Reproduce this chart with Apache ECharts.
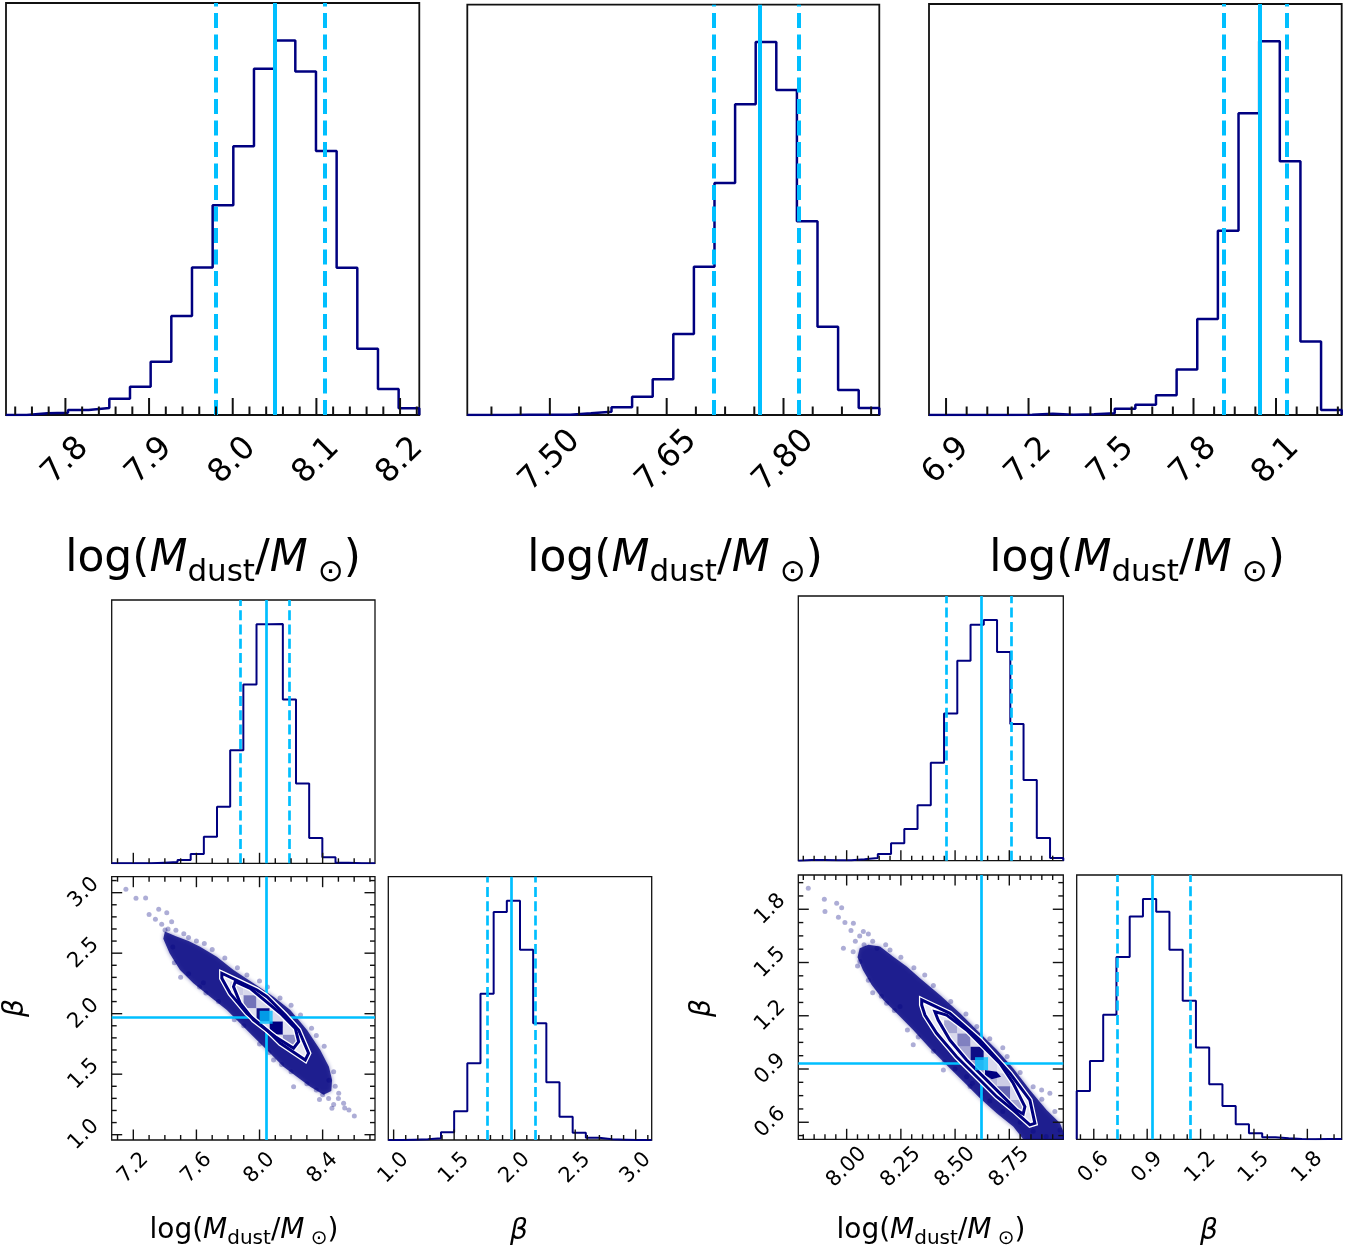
<!DOCTYPE html>
<html><head><meta charset="utf-8">
<script src="https://cdn.jsdelivr.net/npm/echarts@6/dist/echarts.min.js"></script>
<style>html,body{margin:0;padding:0;background:#fff}#c{width:1363px;height:1254px}#err{position:absolute;left:1090px;top:610px;width:260px;font:10px monospace;color:#888;white-space:pre-wrap}</style>
</head><body><div id="c"></div><div id="err"></div>
<script>
function showErr(m) { const e = document.getElementById('err'); if (e) e.textContent += m + '\n'; }
window.onerror = function (msg) { showErr(String(msg)); };
// ---------------- DATA ----------------
// Top row: three 1-D posteriors of log(Mdust/Msun)
const h1Range = [7.729, 8.223];
const h1Counts = [0,5,7,15,21,49,85,160,297,443,630,807,1040,1125,1032,793,442,199,78,20];
const h1Ticks = ['7.8','7.9','8.0','8.1','8.2'];
const h1Quant = [7.980, 8.052, 8.110];

const h2Range = [7.394, 7.923];
const h2Counts = [0,0,1,1,1,5,10,23,55,107,243,445,696,932,1119,975,581,265,75,21];
const h2Ticks = ['7.50','7.65','7.80'];
const h2Quant = [7.710, 7.771, 7.819];

const h3Range = [6.838, 8.339];
const h3Counts = [0,0,0,0,1,4,1,2,5,19,31,59,137,288,553,906,1122,762,221,15];
const h3Ticks = ['6.9','7.2','7.5','7.8','8.1'];
const h3Quant = [7.907, 8.042, 8.139];

// Bottom-left corner plot
const cLxRange = [7.063, 8.732];
const cLyRange = [0.956, 3.132];
const cLxTicks = ['7.2','7.6','8.0','8.4'];
const cLyTicks = ['1.0','1.5','2.0','2.5','3.0'];
const cLmCounts = [0,0,0,2,4,10,28,80,170,339,536,717,718,491,239,76,18,2,0,0];
const cLmQuant = [7.877, 8.042, 8.186];
const cLbCounts = [0,1,2,5,23,86,230,438,683,717,570,350,173,70,22,7,2,1,0,0];
const cLbQuant = [1.774, 1.970, 2.171];
const cLtruth = [8.042, 1.970];
const cLcloud = [[7.40,2.68],[7.47,2.64],[7.55,2.60],[7.623,2.554],[7.729,2.471],[7.835,2.361],[7.962,2.251],[8.089,2.140],[8.195,2.030],[8.301,1.865],[8.385,1.700],[8.440,1.562],[8.460,1.452],[8.455,1.360],[8.406,1.330],[8.322,1.397],[8.237,1.479],[8.152,1.562],[8.047,1.700],[7.962,1.810],[7.877,1.920],[7.793,2.030],[7.687,2.140],[7.581,2.251],[7.496,2.361],[7.43,2.50],[7.39,2.62]];
const cLout = [[7.153,3.028],[7.217,2.953],[7.278,2.956],[7.361,2.862],[7.412,2.835],[7.443,2.760],[7.401,2.691],[7.644,2.256],[8.089,1.617],[8.216,1.397],[8.601,1.154],[8.567,1.204],[8.533,1.259],[8.459,1.218],[8.502,1.342],[8.438,1.300],[7.55,2.63],[7.70,2.53],[7.86,2.38],[8.00,2.27],[8.20,2.07],[8.36,1.82],[7.50,2.30],[7.66,2.17],[7.84,1.95],[8.00,1.75],[8.14,1.58],[8.30,1.42],[8.40,1.33],[7.45,2.55],[8.44,1.45],[7.38,2.74],[7.42,2.70],[7.47,2.69],[7.52,2.66],[7.60,2.60],[7.65,2.58],[7.78,2.46],[7.92,2.32],[8.05,2.22],[8.13,2.13],[8.26,1.99],[8.33,1.88],[8.41,1.73],[8.47,1.52],[8.48,1.40],[7.46,2.42],[7.55,2.33],[7.62,2.22],[7.74,2.10],[7.90,1.90],[8.06,1.68],[8.20,1.52],[8.36,1.37],[8.50,1.30],[8.54,1.22],[8.47,1.25],[8.38,1.29],[7.34,2.78],[7.30,2.82]];
const cLouter = [[7.761,2.334],[7.984,2.196],[8.047,2.140],[8.163,1.989],[8.248,1.865],[8.311,1.673],[8.290,1.617],[8.132,1.755],[8.047,1.865],[7.920,2.003],[7.814,2.168],[7.761,2.292]];
const cLinner = [[7.846,2.264],[7.941,2.209],[8.132,2.003],[8.227,1.879],[8.248,1.768],[8.216,1.714],[8.100,1.810],[7.962,1.948],[7.878,2.086],[7.835,2.223]];
const cLcells = [[7.772,2.316,0.1],[7.856,2.316,0.12],[7.856,2.207,0.2],[7.939,2.207,0.15],[7.939,2.098,0.55],[8.023,2.098,0.15],[7.856,2.098,0.1],[7.939,1.990,0.12],[8.023,1.990,0.95],[8.106,1.990,0.15],[8.023,1.881,0.15],[8.106,1.881,1.0],[8.190,1.881,0.12],[8.106,1.772,0.15],[8.190,1.772,0.45],[8.273,1.772,0.12],[8.190,1.663,0.1],[8.273,1.663,0.1]];

// Bottom-right corner plot
const cRxRange = [7.777, 8.999];
const cRyRange = [0.504, 1.993];
const cRxTicks = ['8.00','8.25','8.50','8.75'];
const cRyTicks = ['0.6','0.9','1.2','1.5','1.8'];
const cRmCounts = [2,2,1,1,4,8,20,52,95,166,294,442,600,708,722,626,410,242,68,8];
const cRmQuant = [8.458, 8.622, 8.756];
const cRbCounts = [145,235,373,546,668,720,682,568,415,275,165,100,45,18,6,3,1,0,1,1];
const cRbQuant = [0.734, 0.930, 1.137];
const cRtruth = [8.622, 0.930];
const cRcloud = [[8.060,1.580],[8.100,1.600],[8.154,1.590],[8.215,1.533],[8.277,1.477],[8.338,1.411],[8.430,1.317],[8.523,1.214],[8.615,1.101],[8.692,1.008],[8.768,0.904],[8.845,0.782],[8.922,0.669],[8.984,0.594],[9.02,0.48],[8.83,0.48],[8.768,0.576],[8.692,0.651],[8.615,0.735],[8.538,0.829],[8.461,0.923],[8.384,1.017],[8.307,1.120],[8.231,1.214],[8.169,1.289],[8.115,1.374],[8.075,1.458],[8.050,1.530]];
const cRout = [[7.823,1.918],[7.897,1.856],[7.954,1.834],[7.977,1.809],[7.900,1.787],[7.962,1.755],[7.992,1.725],[8.031,1.721],[8.077,1.674],[7.985,1.580],[8.061,1.505],[8.184,1.270],[8.246,1.252],[8.307,1.036],[8.446,0.895],[8.553,0.857],[8.569,0.801],[8.899,0.782],[8.984,0.557],[8.937,0.763],[8.20,1.57],[8.36,1.43],[8.55,1.21],[8.72,1.02],[8.86,0.80],[8.12,1.33],[8.28,1.12],[8.45,0.94],[8.62,0.76],[8.80,0.60],[8.02,1.68],[8.06,1.65],[8.10,1.66],[8.12,1.62],[8.08,1.60],[8.14,1.58],[8.04,1.62],[8.03,1.56],[8.05,1.48],[8.18,1.60],[8.25,1.53],[8.31,1.47],[8.40,1.37],[8.48,1.28],[8.60,1.14],[8.66,1.07],[8.74,0.97],[8.80,0.88],[8.90,0.73],[8.96,0.66],[8.10,1.40],[8.16,1.31],[8.22,1.23],[8.33,1.08],[8.40,1.00],[8.50,0.90],[8.58,0.82],[8.66,0.72],[8.72,0.66],[8.86,0.55],[8.92,0.52]];
const cRouter = [[8.346,1.289],[8.476,1.214],[8.615,1.063],[8.753,0.876],[8.845,0.725],[8.868,0.594],[8.845,0.585],[8.768,0.669],[8.692,0.744],[8.615,0.838],[8.507,0.969],[8.415,1.101],[8.361,1.204],[8.346,1.261]];
const cRinner = [[8.407,1.223],[8.461,1.204],[8.553,1.120],[8.630,1.026],[8.707,0.932],[8.768,0.820],[8.822,0.688],[8.814,0.647],[8.784,0.669],[8.707,0.763],[8.630,0.857],[8.553,0.951],[8.476,1.063],[8.422,1.176]];
const cRcore = [[8.638,0.894],[8.692,0.885],[8.712,0.857],[8.669,0.842],[8.638,0.866]];
const cRcells = [[8.419,1.212,0.1],[8.419,1.286,0.08],[8.480,1.212,0.12],[8.480,1.137,0.35],[8.480,1.063,0.15],[8.541,1.137,0.15],[8.541,1.063,0.5],[8.541,0.988,0.35],[8.602,1.063,0.15],[8.602,0.988,0.95],[8.602,0.914,0.4],[8.663,0.988,0.15],[8.663,0.914,0.15],[8.663,0.839,0.3],[8.724,0.914,0.1],[8.724,0.839,0.2],[8.724,0.765,0.6],[8.785,0.765,0.15],[8.785,0.690,0.35],[8.724,0.690,0.12],[8.846,0.690,0.1],[8.846,0.616,0.12],[8.785,0.616,0.1]];

// ---------------- BUILD ----------------
const F = 'DejaVu Sans', NAVY = '#000080', CYAN = '#00bfff', EDGE = '#111';
const TOP = {major:17, minor:8.5, tw:2, fs:32, margin:46, bw:1.8, hist:2.5, q:4, dash:[15,6.5]};
const BOT = {major:10.5, minor:5, tw:1.4, fs:21, margin:28, bw:1.3, hist:2, q:2.7, dash:[10,4.3]};
const grids = [], xAxes = [], yAxes = [], series = [], tickSpecs = [];

function addGrid(b, bw) {
  grids.push({left:b[0], top:b[1], width:b[2]-b[0], height:b[3]-b[1], show:true, borderColor:EDGE, borderWidth:bw, backgroundColor:'rgba(0,0,0,0)', containLabel:false});
  return grids.length - 1;
}
function tickVals(range, labels, nMinor) {
  const majors = labels.map(Number);
  const step = (majors[1]-majors[0]) / nMinor;
  const minors = [];
  const k0 = Math.ceil((range[0]-majors[0])/step - 1e-6), k1 = Math.floor((range[1]-majors[0])/step + 1e-6);
  for (let k = k0; k <= k1; k++) if (((k % nMinor) + nMinor) % nMinor !== 0) minors.push(majors[0] + k*step);
  return {majors, minors};
}
function addAxis(isX, gi, range, labels, st, pos, showLabel) {
  const list = isX ? xAxes : yAxes;
  const majors = labels.map(Number);
  let lab = {show:false};
  if (showLabel) {
    lab = {show:true, customValues:majors, rotate:45, align:'center', verticalAlign:'middle',
      margin: st.margin, fontSize:st.fs, fontFamily:F, color:'#000',
      formatter: v => { let b = 0; majors.forEach((m,i) => { if (Math.abs(m-v) < Math.abs(majors[b]-v)) b = i; }); return labels[b]; }};
  }
  list.push({type:'value', gridIndex:gi, min:range[0], max:range[1], position:pos,
    axisLine:{show:false}, axisTick:{show:false}, splitLine:{show:false}, axisLabel:lab});
  return list.length - 1;
}
function addTicks(axisIndex, box, range, labels, nMinor, side, st) {
  const t = tickVals(range, labels, nMinor);
  t.majors.forEach(v => tickSpecs.push({axisIndex, box, range, v, side, len:st.major, w:st.tw}));
  t.minors.forEach(v => tickSpecs.push({axisIndex, box, range, v, side, len:st.minor, w:st.tw}));
}
function addHist(box, range, counts, ticks, nMinor, quant, st, showLabel) {
  const gi = addGrid(box, st.bw);
  const xi = addAxis(true, gi, range, ticks, st, 'bottom', showLabel);
  const ymax = Math.max(...counts)*1.1;
  yAxes.push({type:'value', gridIndex:gi, min:0, max:ymax, show:false});
  const yi = yAxes.length - 1;
  const w = (range[1]-range[0]) / counts.length;
  const pts = [[range[0], 0]];
  counts.forEach((c,i) => pts.push([range[0] + i*w, c]));
  pts.push([range[1], counts[counts.length-1]]);
  pts.push([range[1], 0]);
  series.push({type:'line', xAxisIndex:xi, yAxisIndex:yi, data:pts, step:'end', symbol:'none', showSymbol:false,
    lineStyle:{color:NAVY, width:st.hist}, silent:true, animation:false, z:2,
    markLine:{silent:true, symbol:['none','none'], label:{show:false}, animation:false,
      data: quant.map((v,k) => ({xAxis:v, lineStyle:{color:CYAN, width:st.q, type: k===1 ? 'solid' : st.dash}}))}});
  addTicks(xi, box, range, ticks, nMinor, 'bottom', st);
}
function poly(ax, pts, style, z) {
  return Object.assign({type:'custom', coordinateSystem:'cartesian2d', clip:true, silent:true, animation:false, z:z,
    data: pts, encode:{x:0, y:1},
    renderItem: (params, api) => params.dataIndex === 0 ? {type:'polygon', shape:{points: pts.map(p => api.coord(p))}, style: style} : null}, ax);
}
function clipPoly(subject, clip) {
  let area = 0;
  for (let i = 0; i < clip.length; i++) { const a = clip[i], b = clip[(i+1)%clip.length]; area += a[0]*b[1] - b[0]*a[1]; }
  const s = area > 0 ? 1 : -1;
  let out = subject;
  for (let i = 0; i < clip.length && out.length; i++) {
    const A = clip[i], B = clip[(i+1)%clip.length];
    const inside = p => s*((B[0]-A[0])*(p[1]-A[1]) - (B[1]-A[1])*(p[0]-A[0])) >= 0;
    const inter = (p,q) => { const a1=B[1]-A[1], b1=A[0]-B[0], c1=a1*A[0]+b1*A[1]; const a2=q[1]-p[1], b2=p[0]-q[0], c2=a2*p[0]+b2*p[1]; const det=a1*b2-a2*b1; return [(b2*c1-b1*c2)/det, (a1*c2-a2*c1)/det]; };
    const inp = out; out = [];
    for (let j = 0; j < inp.length; j++) {
      const P = inp[j], Q = inp[(j+1)%inp.length], pi = inside(P), qi = inside(Q);
      if (pi) { out.push(P); if (!qi) out.push(inter(P,Q)); } else if (qi) out.push(inter(P,Q));
    }
  }
  return out;
}
function shade(l) { const r = Math.round(255*(1-l)), b = Math.round(255-127*l); return 'rgb(' + r + ',' + r + ',' + b + ')'; }
function cellSeries(ax, cells, xr, yr, clip, z) {
  const dx = (xr[1]-xr[0])/20, dy = (yr[1]-yr[0])/20;
  return Object.assign({type:'custom', coordinateSystem:'cartesian2d', clip:true, silent:true, animation:false, z:z,
    data: cells, encode:{x:0, y:1},
    renderItem: (params, api) => {
      const xc = api.value(0), yc = api.value(1), lv = api.value(2);
      const rect = [api.coord([xc-dx/2, yc+dy/2]), api.coord([xc+dx/2, yc+dy/2]), api.coord([xc+dx/2, yc-dy/2]), api.coord([xc-dx/2, yc-dy/2])];
      const pts = clipPoly(rect, clip.map(p => api.coord(p)));
      if (pts.length < 3) return null;
      return {type:'polygon', shape:{points:pts}, style:{fill:shade(lv)}};
    }}, ax);
}
function addCorner(boxM, boxS, boxB, xr, yr, xt, xn, yt, yn, mCounts, mQuant, bCounts, bQuant, d) {
  addHist(boxM, xr, mCounts, xt, xn, mQuant, BOT, false);
  const gi = addGrid(boxS, BOT.bw);
  const xi = addAxis(true, gi, xr, xt, BOT, 'bottom', true);
  const yi = addAxis(false, gi, yr, yt, BOT, 'left', true);
  const ax = {xAxisIndex:xi, yAxisIndex:yi};
  series.push(poly(ax, d.cloud, {fill:'rgba(0,0,128,0.78)', shadowBlur:4, shadowColor:'rgba(0,0,128,0.6)'}, 2));
  series.push(Object.assign({type:'scatter', data:d.out, symbolSize:5, itemStyle:{color:'rgba(0,0,128,0.4)'}, silent:true, animation:false, z:3}, ax));
  series.push(poly(ax, d.outer, {fill:'#ebebf5'}, 4));
  series.push(poly(ax, d.inner, {fill:'#f6f6fb'}, 5));
  series.push(cellSeries(ax, d.cells, xr, yr, d.outer, 6));
  if (d.core) series.push(poly(ax, d.core, {fill:NAVY}, 7));
  series.push(poly(ax, d.outer, {fill:'none', stroke:'#fff', lineWidth:5.5}, 8));
  series.push(poly(ax, d.inner, {fill:'none', stroke:'#fff', lineWidth:5.5}, 9));
  series.push(poly(ax, d.outer, {fill:'none', stroke:NAVY, lineWidth:3}, 10));
  series.push(poly(ax, d.inner, {fill:'none', stroke:NAVY, lineWidth:3}, 11));
  series.push(Object.assign({type:'scatter', data:[d.truth], symbol:'rect', symbolSize:13, itemStyle:{color:CYAN}, silent:true, animation:false, z:13,
    markLine:{silent:true, symbol:['none','none'], label:{show:false}, animation:false, lineStyle:{color:CYAN, width:2.7, type:'solid'},
      data:[{xAxis:d.truth[0]}, {yAxis:d.truth[1]}]}}, ax));
  addTicks(xi, boxS, xr, xt, xn, 'bottom', BOT);
  addTicks(xi, boxS, xr, xt, xn, 'top', BOT);
  addTicks(yi, boxS, yr, yt, yn, 'left', BOT);
  addTicks(yi, boxS, yr, yt, yn, 'right', BOT);
  addHist(boxB, yr, bCounts, yt, yn, bQuant, BOT, true);
}

addHist([6, 3, 419.3, 415], h1Range, h1Counts, h1Ticks, 5, h1Quant, TOP, true);
addHist([467.3, 4.7, 879.3, 415], h2Range, h2Counts, h2Ticks, 4, h2Quant, TOP, true);
addHist([929, 4, 1341.7, 415], h3Range, h3Counts, h3Ticks, 4, h3Quant, TOP, true);

addCorner([111.7, 600, 375, 863.3], [111.7, 876.7, 375, 1140], [388.3, 876.7, 651.7, 1140],
  cLxRange, cLyRange, cLxTicks, 4, cLyTicks, 5, cLmCounts, cLmQuant, cLbCounts, cLbQuant,
  {cloud:cLcloud, out:cLout, outer:cLouter, inner:cLinner, cells:cLcells, truth:cLtruth});
addCorner([798.3, 596, 1063.3, 860.7], [798.3, 875, 1063.3, 1139.3], [1076.7, 875, 1341.7, 1139.3],
  cRxRange, cRyRange, cRxTicks, 5, cRyTicks, 4, cRmCounts, cRmQuant, cRbCounts, cRbQuant,
  {cloud:cRcloud, out:cRout, outer:cRouter, inner:cRinner, cells:cRcells, core:cRcore, truth:cRtruth});

function mathTitle(x, y, S, LH, H) {
  const sub = Math.round(S*0.7);
  return {type:'text', x:x, y:y, silent:true, z:100, style:{
    text:'{a|log(}{m|M}{s|dust}{a|/}{m|M}{s| ⊙}{a|)}', align:'center', verticalAlign:'middle',
    rich:{
      a:{fontFamily:F, fontSize:S, lineHeight:LH, fill:'#000'},
      m:{fontFamily:F, fontSize:S, fontStyle:'italic', lineHeight:LH, fill:'#000'},
      s:{fontFamily:F, fontSize:sub, lineHeight:H, verticalAlign:'bottom', fill:'#000'}
    }}};
}
function betaText(x, y, rot) {
  return {type:'text', x:x, y:y, rotation:rot, silent:true, z:100, style:{text:'β', fontFamily:F, fontSize:28, fontStyle:'italic', align:'center', verticalAlign:'middle', fill:'#000'}};
}
const titles = [
  mathTitle(213, 560, 44, 56, 38), mathTitle(675, 560, 44, 56, 38), mathTitle(1137, 560, 44, 56, 38),
  mathTitle(244, 1231, 28, 36, 25), mathTitle(931, 1231, 28, 36, 25),
  betaText(519, 1232, 0), betaText(1209, 1232, 0),
  betaText(16, 1008, Math.PI/2), betaText(703, 1008, Math.PI/2)
];

const chart = echarts.init(document.getElementById('c'), null, {renderer:'canvas'});
try {
  chart.setOption({animation:false, backgroundColor:'#fff', grid:grids, xAxis:xAxes, yAxis:yAxes, series:series, graphic:titles, tooltip:{show:false}});
} catch (e) { showErr('setOption: ' + (e && e.message)); }

// ---- inward tick marks, placed with the axis scales (convertToPixel) ----
function tickShape(t) {
  const isX = t.side === 'bottom' || t.side === 'top';
  let p = null;
  try { p = chart.convertToPixel(isX ? {xAxisIndex:t.axisIndex} : {yAxisIndex:t.axisIndex}, t.v); } catch (e) { p = null; }
  if (typeof p !== 'number' || !isFinite(p)) {
    const f = (t.v - t.range[0]) / (t.range[1] - t.range[0]);
    p = isX ? t.box[0] + f*(t.box[2]-t.box[0]) : t.box[3] - f*(t.box[3]-t.box[1]);
  }
  if (t.side === 'bottom') return {x:p - t.w/2, y:t.box[3] - t.len, width:t.w, height:t.len};
  if (t.side === 'top') return {x:p - t.w/2, y:t.box[1], width:t.w, height:t.len};
  if (t.side === 'left') return {x:t.box[0], y:p - t.w/2, width:t.len, height:t.w};
  return {x:t.box[2] - t.len, y:p - t.w/2, width:t.len, height:t.w};
}
let tickOk = false;
try {
  const zr = chart.getZr();
  const tickGroup = new echarts.graphic.Group();
  tickSpecs.forEach(t => {
    tickGroup.add(new echarts.graphic.Rect({shape: tickShape(t), style:{fill:EDGE}, silent:true, z:60, zlevel:0}));
  });
  zr.add(tickGroup);
  zr.refresh();
  tickOk = tickSpecs.length > 0;
} catch (e) { showErr('ticks(zr): ' + (e && e.message)); }
if (!tickOk) {
  try {
    const rects = tickSpecs.map(t => ({type:'rect', shape:tickShape(t), style:{fill:EDGE}, silent:true, z:60}));
    chart.setOption({graphic: titles.concat(rects)});
  } catch (e) { showErr('ticks(graphic): ' + (e && e.message)); }
}
</script></body></html>
